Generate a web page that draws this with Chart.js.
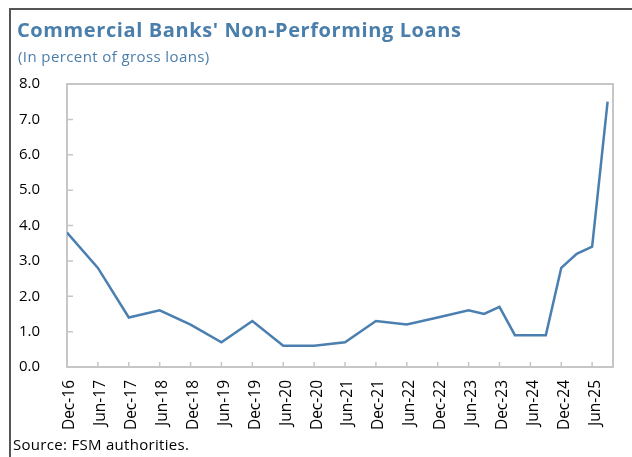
<!DOCTYPE html>
<html>
<head>
<meta charset="utf-8">
<title>Commercial Banks' Non-Performing Loans</title>
<script src="https://cdn.jsdelivr.net/npm/chart.js@4.4.1/dist/chart.umd.min.js"></script>
<style>
    html, body { margin: 0; padding: 0; background: #fff; }
    body { width: 632px; height: 457px; position: relative; overflow: hidden; font-family: "Open Sans", sans-serif; }
    #chartBox { position: absolute; left: 0; top: 0; width: 632px; height: 457px; }
    .txt { position: absolute; white-space: nowrap; line-height: 1; z-index: 6; }
    #title { left: 17px; top: 20px; font-size: 20px; font-weight: bold; letter-spacing: 0.6px; color: #4a7eab; }
    #subtitle { left: 18px; top: 49px; font-size: 15px; letter-spacing: 0.4px; color: #4a7eab; }
    #source { left: 13px; top: 437px; font-size: 15px; letter-spacing: 0.3px; color: #000; }
</style>
</head>
<body>
<div id="chartBox"><canvas id="nplChart" width="632" height="457"></canvas></div>
<div class="txt" id="title">Commercial Banks' Non-Performing Loans</div>
<div class="txt" id="subtitle">(In percent of gross loans)</div>
<div class="txt" id="source">Source: FSM authorities.</div>

<script>
// --- DATOS ---
const periods = ['Dec-16', 'Jun-17', 'Dec-17', 'Jun-18', 'Dec-18', 'Jun-19', 'Dec-19', 'Jun-20', 'Dec-20',
    'Jun-21', 'Dec-21', 'Jun-22', 'Dec-22', 'Jun-23', 'Sep-23', 'Dec-23', 'Mar-24', 'Jun-24', 'Sep-24',
    'Dec-24', 'Mar-25', 'Jun-25', 'Sep-25'];
const nplRatio = [3.8, 2.8, 1.4, 1.6, 1.2, 0.7, 1.3, 0.6, 0.6,
    0.7, 1.3, 1.2, 1.4, 1.6, 1.5, 1.7, 0.9, 0.9, 0.9,
    2.8, 3.2, 3.4, 7.5];
const xTickLabels = ['Dec-16', 'Jun-17', 'Dec-17', 'Jun-18', 'Dec-18', 'Jun-19', 'Dec-19', 'Jun-20', 'Dec-20',
    'Jun-21', 'Dec-21', 'Jun-22', 'Dec-22', 'Jun-23', 'Dec-23', 'Jun-24', 'Dec-24', 'Jun-25'];
const yMin = 0, yMax = 8, yStep = 1;

// trimestre contado desde Dec-16
const monthIdx = { Mar: 3, Jun: 6, Sep: 9, Dec: 12 };
function quarterIndex(label) {
    const [m, yy] = label.split('-');
    return (parseInt(yy) - 16) * 4 + monthIdx[m] / 3 - 4;
}

// --- MARCOS Y MARCAS INTERIORES ---
const plotFrame = {
    id: 'plotFrame',
    beforeDatasetsDraw(chart) {
        const { ctx, chartArea: a, scales: { x, y } } = chart;
        ctx.save();
        // marco exterior (izquierda y arriba)
        ctx.strokeStyle = '#555';
        ctx.lineWidth = 2;
        ctx.beginPath();
        ctx.moveTo(10, chart.height);
        ctx.lineTo(10, 9);
        ctx.lineTo(chart.width, 9);
        ctx.stroke();
        // borde del area
        ctx.strokeStyle = '#c6c6c6';
        ctx.lineWidth = 2;
        ctx.beginPath();
        ctx.moveTo(a.left, a.top);
        ctx.lineTo(a.right, a.top);
        ctx.lineTo(a.right, a.bottom);
        ctx.lineTo(a.left, a.bottom);
        ctx.closePath();
        ctx.stroke();
        // marcas
        ctx.lineWidth = 1.5;
        ctx.beginPath();
        x.ticks.forEach(t => {
            const px = x.getPixelForValue(t.value);
            ctx.moveTo(px, a.bottom);
            ctx.lineTo(px, a.bottom - 5);
        });
        y.ticks.forEach(t => {
            const py = y.getPixelForValue(t.value);
            ctx.moveTo(a.left, py);
            ctx.lineTo(a.left + 6, py);
        });
        ctx.stroke();
        ctx.restore();
    }
};

const ctx = document.getElementById('nplChart').getContext('2d');
new Chart(ctx, {
    type: 'line',
    data: {
        datasets: [{
            data: periods.map((p, i) => ({ x: quarterIndex(p), y: nplRatio[i] })),
            borderColor: '#4a7fb0',
            borderWidth: 2.5,
            pointRadius: 0,
            tension: 0,
            fill: false
        }]
    },
    options: {
        responsive: false,
        animation: false,
        devicePixelRatio: 1,
        layout: { padding: { left: 0, top: 84, right: 19, bottom: 20 } },
        plugins: { legend: { display: false }, tooltip: { enabled: false } },
        scales: {
            x: {
                type: 'linear',
                min: 0,
                max: 35.35,
                afterBuildTicks: s => { s.ticks = xTickLabels.map(l => ({ value: quarterIndex(l) })); },
                afterFit: s => { s.height = 70; },
                grid: { display: false },
                border: { display: false },
                ticks: {
                    autoSkip: false,
                    minRotation: 90,
                    maxRotation: 90,
                    padding: 5,
                    labelOffset: 3,
                    color: '#000',
                    font: { family: 'Open Sans', size: 15.5 },
                    callback: (v, i) => xTickLabels[i]
                }
            },
            y: {
                min: yMin,
                max: yMax,
                afterFit: s => { s.width = 67; },
                grid: { display: false },
                border: { display: false },
                ticks: {
                    stepSize: yStep,
                    padding: 19,
                    color: '#000',
                    font: { family: 'Open Sans', size: 15 },
                    callback: v => v.toFixed(1)
                }
            }
        }
    },
    plugins: [plotFrame]
});
</script>
</body>
</html>
